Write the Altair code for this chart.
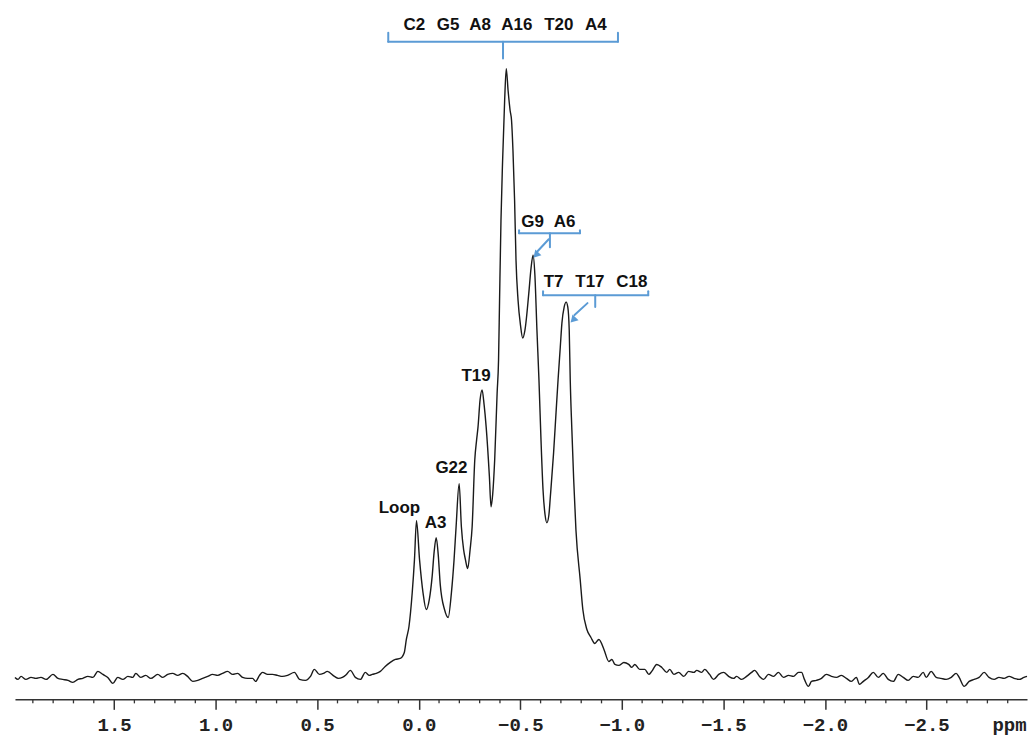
import altair as alt
import pandas as pd

# ---------------- spectrum (ppm, intensity in arbitrary units) ----------------
base_hi_ppm = [1.988, 1.973, 1.958, 1.934, 1.909, 1.885, 1.860, 1.835, 1.801, 1.776,
               1.752, 1.727, 1.703, 1.678, 1.654, 1.629, 1.604, 1.580, 1.555, 1.531,
               1.506, 1.482, 1.457, 1.432, 1.408, 1.393, 1.369, 1.344, 1.319, 1.285,
               1.260, 1.236, 1.211, 1.187, 1.162, 1.138, 1.113, 1.088, 1.064, 1.039,
               1.015, 0.990, 0.966, 0.941, 0.916, 0.892, 0.867, 0.843, 0.818, 0.803,
               0.784, 0.769, 0.744, 0.720, 0.695, 0.671, 0.646, 0.612, 0.587, 0.558,
               0.533, 0.514, 0.489, 0.469, 0.450, 0.415, 0.396, 0.376, 0.356, 0.337,
               0.312, 0.287, 0.263, 0.243, 0.229, 0.209, 0.189, 0.165, 0.140, 0.115,
               0.091, 0.071, 0.061]
base_hi_int = [1, -1, 2, -1, 1, 0, 1, -1, 4, 0,
               -1, -2, -4, -1, 0, 2, 1, 7, 4, 1,
               -5, 1, -1, 2, 1, 5, 1, 3, 0, 4,
               1, 4, 5, 3, 5, 2, -3, -2, 0, 2,
               4, 3, 5, 7, 4, 5, 1, 0, 0, -3,
               3, 6, 4, 4, 3, 2, 3, 6, -1, -2,
               2, 9, 4, 5, 7, 2, 0, 1, 4, 8,
               1, -1, 6, 3, 4, 5, 7, 12, 16, 19,
               20, 26, 39]

peak_ppm = [0.048, 0.032, 0.021, 0.011, -0.004, -0.021, -0.037, -0.052, -0.066, -0.076,
            -0.086, -0.096, -0.106, -0.127, -0.145, -0.161, -0.174, -0.184, -0.199, -0.210,
            -0.221, -0.230, -0.241, -0.253, -0.263, -0.276, -0.285, -0.292, -0.302, -0.312,
            -0.322, -0.332, -0.348, -0.356, -0.364, -0.374, -0.386, -0.393, -0.398, -0.405,
            -0.413, -0.423, -0.431, -0.440, -0.450, -0.457, -0.464, -0.472, -0.479, -0.489,
            -0.501, -0.512, -0.523, -0.542, -0.553, -0.563, -0.572, -0.582, -0.592, -0.602,
            -0.612, -0.622, -0.631, -0.641, -0.648, -0.664, -0.676, -0.686, -0.697, -0.705,
            -0.716, -0.726, -0.734, -0.741, -0.746, -0.754, -0.763, -0.774, -0.795, -0.808,
            -0.828, -0.848, -0.867, -0.887, -0.912, -0.936]
peak_int = [52, 86, 119, 158, 119, 86, 69, 79, 102, 127,
            141, 124, 94, 69, 61, 86, 119, 152, 195, 152,
            129, 119, 110, 129, 152, 219, 239, 252, 279, 289,
            274, 252, 202, 172, 184, 219, 286, 319, 379, 459,
            519, 579, 611, 589, 569, 559, 529, 479, 419, 379,
            354, 341, 349, 386, 411, 424, 404, 349, 299, 239,
            189, 164, 156, 164, 182, 226, 266, 299, 332, 356,
            372, 377, 372, 349, 299, 249, 199, 149, 99, 69,
            49, 41, 35, 39, 29, 17]

base_lo_ppm = [-0.951, -0.966, -0.985, -1.010, -1.034, -1.049, -1.064, -1.088, -1.113, -1.133,
               -1.147, -1.172, -1.197, -1.221, -1.236, -1.256, -1.280, -1.305, -1.329, -1.354,
               -1.369, -1.393, -1.408, -1.432, -1.452, -1.477, -1.501, -1.526, -1.550, -1.565,
               -1.590, -1.614, -1.639, -1.654, -1.678, -1.698, -1.722, -1.747, -1.771, -1.796,
               -1.821, -1.845, -1.870, -1.885, -1.899, -1.919, -1.934, -1.958, -1.983, -2.007,
               -2.032, -2.057, -2.081, -2.106, -2.130, -2.155, -2.170, -2.189, -2.214, -2.238,
               -2.263, -2.287, -2.312, -2.337, -2.361, -2.386, -2.410, -2.435, -2.459, -2.484,
               -2.499, -2.523, -2.548, -2.572, -2.597, -2.622, -2.646, -2.661, -2.686, -2.710,
               -2.735, -2.759, -2.784, -2.808, -2.833, -2.857, -2.882, -2.907, -2.931, -2.956,
               -2.980, -2.995]
base_lo_int = [19, 14, 13, 16, 14, 11, 14, 9, 9, 4,
               7, 14, 11, 6, 9, 4, 6, 2, 7, 6,
               8, 6, 9, 4, -1, 4, 6, 2, 0, 2,
               -1, 2, 6, 8, 2, -1, 4, 2, 6, 1,
               3, 2, 6, 6, -1, -8, -3, -2, 0, 4,
               2, 1, 3, 0, -3, 1, -6, -3, 1, 6,
               1, 5, -1, -3, 4, 1, -2, 2, 1, 6,
               1, 7, 1, 0, -1, 1, 5, 1, -8, -3,
               -1, 1, 6, 1, -1, 1, 0, 2, 0, -1,
               1, 2]

# ---------------- axis ticks ----------------
major_ticks = [1.5, 1.0, 0.5, 0.0, -0.5, -1.0, -1.5, -2.0, -2.5]
minor_ticks = [1.9, 1.8, 1.7, 1.6, 1.4, 1.3, 1.2, 1.1, 0.9, 0.8, 0.7, 0.6,
               0.4, 0.3, 0.2, 0.1, -0.1, -0.2, -0.3, -0.4, -0.6, -0.7, -0.8, -0.9,
               -1.1, -1.2, -1.3, -1.4, -1.6, -1.7, -1.8, -1.9, -2.1, -2.2, -2.3, -2.4,
               -2.6, -2.7, -2.8, -2.9]

# ---------------- annotations ----------------
label_text = ["C2", "G5", "A8", "A16", "T20", "A4",
              "G9", "A6",
              "T7", "T17", "C18",
              "Loop", "A3", "G22", "T19"]
label_ppm = [0.022, -0.145, -0.302, -0.483, -0.690, -0.872,
             -0.561, -0.718,
             -0.664, -0.843, -1.049,
             0.095, -0.083, -0.161, -0.282]
label_int = [650, 650, 650, 650, 650, 650,
             452, 452,
             392, 392, 392,
             166, 151, 206, 298]

# bracket / arrow segments (ppm start, int start, ppm end, int end)
seg_ppm1 = [0.150, 0.150, -0.981, -0.415,
            -0.494, -0.494, -0.794, -0.646,
            -0.612, -0.612, -1.130, -0.869,
            -0.640, -0.831]
seg_int1 = [647, 638, 638, 638,
            449, 446, 446, 446,
            388, 384, 384, 384,
            440, 376]
seg_ppm2 = [0.150, -0.981, -0.981, -0.415,
            -0.494, -0.794, -0.794, -0.646,
            -0.612, -1.130, -1.130, -0.869,
            -0.585, -0.767]
seg_int2 = [638, 638, 647, 621,
            446, 446, 449, 432,
            384, 384, 388, 372,
            428, 364]

head_ppm = [-0.581, -0.764]
head_int = [425, 360]

# ---------------- build ----------------
spec = pd.DataFrame({
    "ppm": base_hi_ppm + peak_ppm + base_lo_ppm,
    "intensity": base_hi_int + peak_int + base_lo_int,
})
spec["idx"] = range(len(spec))

labels = pd.DataFrame({"label": label_text, "ppm": label_ppm, "intensity": label_int})
segs = pd.DataFrame({"p1": seg_ppm1, "i1": seg_int1, "p2": seg_ppm2, "i2": seg_int2})
heads = pd.DataFrame({"ppm": head_ppm, "intensity": head_int})
minor = pd.DataFrame({"ppm": minor_ticks})

xscale = alt.Scale(domain=[1.988, -2.995], nice=False, zero=False)
yscale = alt.Scale(domain=[-21, 679], nice=False, zero=False)

BLUE = "#5B9BD5"

line = alt.Chart(spec).mark_line(color="#1a1a1a", strokeWidth=1.4, interpolate="monotone").encode(
    x=alt.X("ppm:Q", scale=xscale,
            axis=alt.Axis(values=major_ticks, format=".1f", title="ppm",
                          titleX=996, titleY=31, titleAlign="center",
                          titleBaseline="alphabetic", titleAngle=0,
                          titleFont="Liberation Mono", titleFontSize=19,
                          titleFontWeight="bold", titleColor="#222",
                          labelFont="Liberation Mono", labelFontSize=19,
                          labelFontWeight="bold", labelColor="#222",
                          labelBaseline="alphabetic", labelPadding=21,
                          tickSize=10, tickWidth=1.5, tickColor="#333",
                          domainColor="#333", domainWidth=1.5, grid=False,
                          labelFlush=False, labelOverlap=False)),
    y=alt.Y("intensity:Q", scale=yscale, axis=None),
    order="idx:Q",
)

minor_rules = alt.Chart(minor).mark_rule(color="#333", strokeWidth=1.3).encode(
    x=alt.X("ppm:Q", scale=xscale),
    y=alt.value(700),
    y2=alt.value(704),
)

seg_rules = alt.Chart(segs).mark_rule(color=BLUE, strokeWidth=2, strokeCap="round").encode(
    x=alt.X("p1:Q", scale=xscale),
    y=alt.Y("i1:Q", scale=yscale),
    x2="p2:Q",
    y2="i2:Q",
)

arrow_heads = alt.Chart(heads).mark_point(shape="triangle", filled=True, color=BLUE,
                                         size=70, angle=223, opacity=1).encode(
    x=alt.X("ppm:Q", scale=xscale),
    y=alt.Y("intensity:Q", scale=yscale),
)

texts = alt.Chart(labels).mark_text(font="Liberation Sans", fontSize=17, fontWeight="bold",
                                   color="#111", align="center", baseline="alphabetic").encode(
    x=alt.X("ppm:Q", scale=xscale),
    y=alt.Y("intensity:Q", scale=yscale),
    text="label:N",
)

chart = alt.layer(line, minor_rules, seg_rules, arrow_heads, texts).properties(
    width=1014, height=700,
    padding={"left": 12, "top": 0, "right": 0, "bottom": 3},
    background="white",
).configure_view(stroke=None)

chart.save("out.html", embed_options={"renderer": "svg", "actions": False})
